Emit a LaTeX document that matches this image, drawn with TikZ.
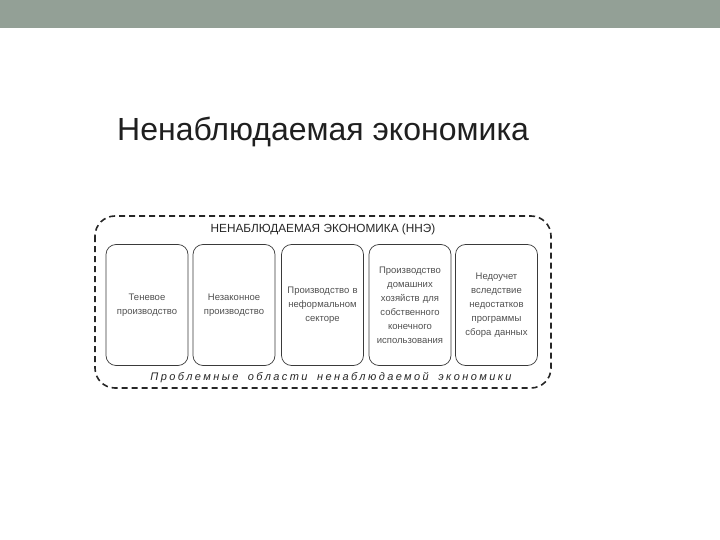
\documentclass[tikz,border=0pt]{standalone}
\usepackage{fontspec}
\setmainfont{Liberation Sans}
\usetikzlibrary{positioning}
\definecolor{barcol}{HTML}{93A096}
\definecolor{boxline}{HTML}{3A3A3A}
\definecolor{boxtext}{HTML}{505050}
\tikzset{
  catbox/.style={draw=boxline, line width=0.7pt, rounded corners=10pt, minimum width=82pt, minimum height=121pt, inner sep=0pt},
  cattext/.style={text=boxtext, font=\fontsize{9.5}{14}\selectfont, align=center, text width=80pt},
  outerbox/.style={draw=black!85, line width=1.6pt, dash pattern=on 6pt off 4pt, rounded corners=20pt}
}
\begin{document}
\begin{tikzpicture}[x=1pt,y=-1pt]
\useasboundingbox (0,0) rectangle (720,540);
\fill[barcol] (0,0) rectangle (720,28);
\node[anchor=base west, inner sep=0pt, text=black!88, font=\fontsize{32}{38}\selectfont] (title) at (117,141) {Ненаблюдаемая экономика};
\draw[outerbox] (95,216) rectangle (551,388);
\node[font=\fontsize{11.8}{13}\selectfont, text=black!85, inner sep=0pt] (head) at (323,229.5) {НЕНАБЛЮДАЕМАЯ ЭКОНОМИКА (ННЭ)};
\node[catbox] (b1) at (147,305) {};
\node[catbox] (b2) at (234,305) {};
\node[catbox] (b3) at (322.5,305) {};
\node[catbox] (b4) at (410,305) {};
\node[catbox] (b5) at (496.5,305) {};
\node[cattext] (t1) at (b1) {Теневое\\производство};
\node[cattext] (t2) at (b2) {Незаконное\\производство};
\node[cattext] (t3) at (b3) {Производство в\\неформальном\\секторе};
\node[cattext] (t4) at (b4) {Производство\\домашних\\хозяйств для\\собственного\\конечного\\использования};
\node[cattext] (t5) at (b5) {Недоучет\\вследствие\\недостатков\\программы\\сбора данных};
\node[font=\fontsize{11}{13}\selectfont\itshape\addfontfeature{LetterSpace=22}, text=black!85, inner sep=0pt] (foot) at (331,378) {Проблемные\hspace{4pt} области\hspace{4pt} ненаблюдаемой\hspace{4pt} экономики};
\end{tikzpicture}
\end{document}
